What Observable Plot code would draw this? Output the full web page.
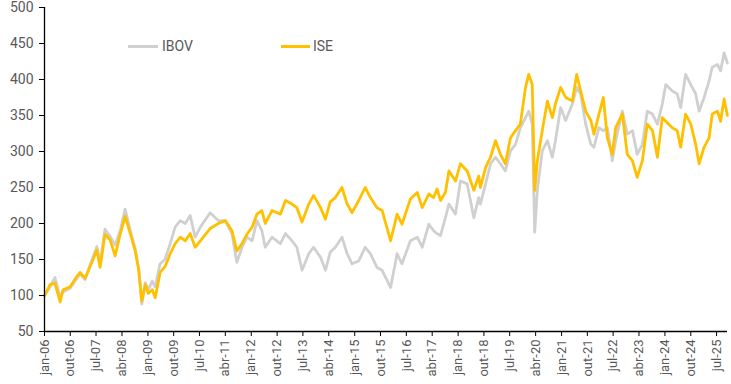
<!DOCTYPE html>
<html><head><meta charset="utf-8">
<script src="https://cdn.jsdelivr.net/npm/d3@7"></script>
<script src="https://cdn.jsdelivr.net/npm/@observablehq/plot@0.6"></script>
<style>
body{margin:0;background:#fff;}
#chart{position:relative;width:731px;height:384px;font-family:Roboto,"Liberation Sans",sans-serif;}
.leg{position:absolute;height:16px;line-height:16px;font-size:14px;color:#595959;white-space:nowrap;}
.sw{position:absolute;height:2.5px;}
</style></head><body><div id="chart"></div>
<script>
const dates = ["2006-01-02","2006-03-01","2006-04-22","2006-06-16","2006-07-16","2006-09-29","2006-12-02","2007-01-13","2007-03-07","2007-04-28","2007-07-10","2007-08-13","2007-10-04","2007-11-28","2008-01-19","2008-03-13","2008-05-04","2008-06-28","2008-08-19","2008-09-25","2008-10-28","2008-12-04","2009-01-04","2009-02-16","2009-03-19","2009-05-10","2009-07-01","2009-08-25","2009-10-16","2009-12-10","2010-02-01","2010-03-25","2010-05-16","2010-07-10","2010-10-22","2011-01-16","2011-04-01","2011-06-10","2011-08-01","2011-09-25","2011-11-16","2012-01-10","2012-03-01","2012-04-22","2012-05-28","2012-08-07","2012-11-04","2012-12-28","2013-03-07","2013-04-28","2013-06-22","2013-09-01","2013-10-22","2014-01-04","2014-02-25","2014-04-16","2014-06-10","2014-08-19","2014-10-13","2014-12-04","2015-02-13","2015-04-22","2015-06-16","2015-08-25","2015-10-19","2016-01-16","2016-03-25","2016-05-16","2016-08-13","2016-10-25","2016-12-16","2017-02-25","2017-04-16","2017-05-22","2017-06-28","2017-08-19","2017-09-25","2017-12-04","2018-01-25","2018-04-07","2018-06-16","2018-08-07","2018-08-25","2018-10-19","2018-12-10","2019-02-01","2019-03-25","2019-05-16","2019-07-10","2019-09-01","2019-10-22","2019-12-16","2020-01-19","2020-02-25","2020-03-22","2020-04-19","2020-06-10","2020-08-04","2020-09-25","2020-10-28","2020-12-22","2021-02-13","2021-04-25","2021-06-10","2021-07-22","2021-09-13","2021-11-07","2021-12-10","2022-02-01","2022-03-19","2022-05-01","2022-06-22","2022-07-28","2022-10-07","2022-11-28","2023-01-22","2023-03-13","2023-05-07","2023-06-28","2023-08-22","2023-10-13","2023-12-04","2024-01-10","2024-03-19","2024-05-10","2024-06-16","2024-08-07","2024-10-01","2024-11-22","2024-12-28","2025-02-19","2025-04-13","2025-05-16","2025-07-10","2025-08-13","2025-09-19","2025-10-24"];
const ibov = [100,112,125,98,105,110,122,130,122,142,168,145,192,182,170,190,220,190,165,138,88,118,108,120,112,144,150,172,195,204,200,211,181,195,215,204,204,186,146,167,181,176,204,190,167,181,172,186,176,167,135,158,167,153,135,160,167,181,158,144,148,167,158,139,135,111,158,144,176,181,167,199,190,186,183,208,227,213,259,255,208,236,227,255,283,292,283,273,301,310,333,347,356,338,188,246,301,315,292,315,361,343,366,389,380,338,310,306,333,329,333,287,315,356,324,329,296,310,356,352,338,366,393,384,380,361,407,393,380,356,375,398,417,421,412,437,423];
const ise = [100,115,117,91,108,112,125,132,124,140,163,139,185,177,155,185,210,186,162,135,92,115,103,108,97,132,140,158,172,181,176,186,167,176,193,200,204,190,162,172,185,195,213,218,200,218,213,232,227,222,202,227,239,222,206,230,236,250,227,215,232,250,236,222,218,176,213,199,234,243,222,241,236,248,232,243,273,259,283,273,246,266,250,278,292,315,296,283,319,329,338,389,407,393,246,287,329,370,347,366,389,375,370,407,384,356,343,324,352,375,319,296,333,352,296,287,264,287,338,329,292,347,342,333,329,306,352,338,310,283,306,319,352,356,342,373,350];
const seriesNames = ["IBOV", "ISE"];
const seriesColors = ["#D0D0D0", "#FFC000"];
const yTicks = [50,100,150,200,250,300,350,400,450,500];
const xTickLabels = ["jan-06","out-06","jul-07","abr-08","jan-09","out-09","jul-10","abr-11","jan-12","out-12","jul-13","abr-14","jan-15","out-15","jul-16","abr-17","jan-18","out-18","jul-19","abr-20","jan-21","out-21","jul-22","abr-23","jan-24","out-24","jul-25"];
const monthsPt = ["jan","fev","mar","abr","mai","jun","jul","ago","set","out","nov","dez"];

const parseLabel = s => { const [m, y] = s.split("-"); return new Date(Date.UTC(2000 + +y, monthsPt.indexOf(m), 1)); };
const xTicks = xTickLabels.map(parseLabel);
const fmt = d => monthsPt[d.getUTCMonth()] + "-" + String(d.getUTCFullYear() % 100).padStart(2, "0");

const data = [];
dates.forEach((d, i) => {
  data.push({date: new Date(d + "T00:00:00Z"), value: ibov[i], series: seriesNames[0]});
});
dates.forEach((d, i) => {
  data.push({date: new Date(d + "T00:00:00Z"), value: ise[i], series: seriesNames[1]});
});

const xStart = new Date(Date.UTC(2006, 0, 1));
const xEnd = new Date(Date.UTC(2025, 9, 25));

const chart = Plot.plot({
  width: 731, height: 384,
  marginLeft: 44, marginRight: 4, marginTop: 7, marginBottom: 53,
  style: {fontFamily: "Roboto, 'Liberation Sans', sans-serif", fontSize: "13px", background: "#fff"},
  x: {type: "utc", domain: [xStart, xEnd]},
  y: {domain: [50, 500]},
  color: {domain: seriesNames, range: seriesColors},
  marks: [
    Plot.lineY(data, {x: "date", y: "value", z: "series", stroke: "series", strokeWidth: 2.8, strokeLinejoin: "round"}),
    Plot.ruleY([50], {stroke: "#000", strokeWidth: 1.3}),
    Plot.ruleX([xStart], {stroke: "#000", strokeWidth: 1.3}),
    Plot.axisY({ticks: yTicks, tickSize: 5, tickPadding: 6, label: null, stroke: "#000", fill: "#595959", fontSize: 14}),
    Plot.axisX({ticks: xTicks, tickFormat: fmt, tickSize: 5, tickPadding: 3, tickRotate: -90, label: null, stroke: "#000", fill: "#595959", fontSize: 13})
  ]
});
const host = document.getElementById("chart");
host.appendChild(chart);

const legendPos = [{sw: 128, w: 30, tx: 162}, {sw: 281, w: 29, tx: 313}];
seriesNames.forEach((name, i) => {
  const s = document.createElement("div");
  s.className = "sw";
  s.style.left = legendPos[i].sw + "px";
  s.style.width = legendPos[i].w + "px";
  s.style.top = "45px";
  s.style.background = seriesColors[i];
  host.appendChild(s);
  const t = document.createElement("div");
  t.className = "leg";
  t.style.left = legendPos[i].tx + "px";
  t.style.top = "38px";
  t.textContent = name;
  host.appendChild(t);
});
</script></body></html>
